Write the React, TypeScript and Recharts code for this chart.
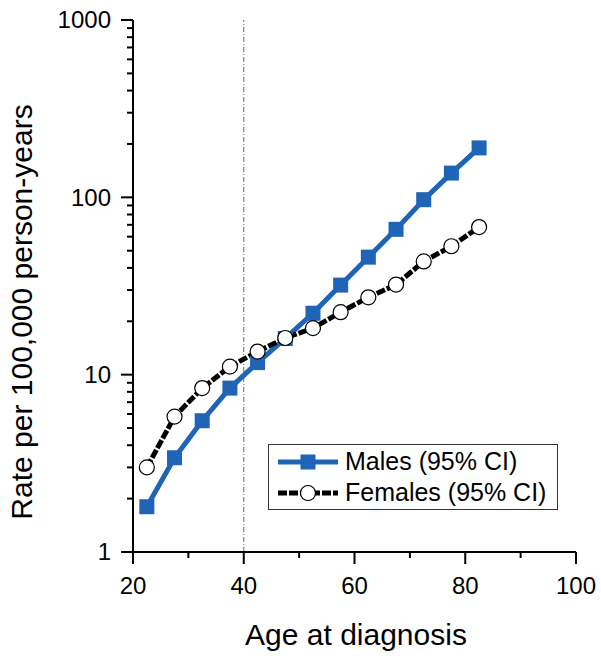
import { LineChart, Line, XAxis, YAxis, ReferenceLine } from "recharts";

const ages = [22.5, 27.5, 32.5, 37.5, 42.5, 47.5, 52.5, 57.5, 62.5, 67.5, 72.5, 77.5, 82.5];
const males = [1.8, 3.4, 5.5, 8.4, 11.7, 16, 22.2, 32, 46, 66, 97, 137, 190];
const females = [3.0, 5.8, 8.4, 11.1, 13.5, 16.1, 18.3, 22.5, 27.3, 32.2, 43.5, 53, 68];

const xTicks = [20, 30, 40, 50, 60, 70, 80, 90, 100];
const xLabels = [20, 40, 60, 80, 100];
const yLabels = [1, 10, 100, 1000];
const yTicks = [
  1, 2, 3, 4, 5, 6, 7, 8, 9,
  10, 20, 30, 40, 50, 60, 70, 80, 90,
  100, 200, 300, 400, 500, 600, 700, 800, 900,
  1000,
];

const data = ages.map((a, i) => ({ age: a, males: males[i], females: females[i] }));

const FONT = '"Liberation Sans", Arial, sans-serif';
const BLUE = "#1f64b7";

function XTick({ x, y, payload }: any) {
  const major = xLabels.includes(payload.value);
  return (
    <g>
      <line x1={x} x2={x} y1={y} y2={y + (major ? 12 : 6)} stroke="#000" strokeWidth={2} />
      {major && (
        <text x={x} y={y + 42} textAnchor="middle" fontSize={24} fontFamily={FONT} fill="#000">
          {payload.value}
        </text>
      )}
    </g>
  );
}

function YTick({ x, y, payload }: any) {
  const major = yLabels.includes(payload.value);
  return (
    <g>
      <line x1={x - (major ? 12 : 6)} x2={x} y1={y} y2={y} stroke="#000" strokeWidth={2} />
      {major && (
        <text x={x - 22} y={y} dy="0.35em" textAnchor="end" fontSize={24} fontFamily={FONT} fill="#000">
          {payload.value}
        </text>
      )}
    </g>
  );
}

function XTitle() {
  return (
    <text x={356} y={645} textAnchor="middle" fontSize={30} fontFamily={FONT} fill="#000">
      Age at diagnosis
    </text>
  );
}

function YTitle() {
  return (
    <text
      x={32}
      y={312}
      textAnchor="middle"
      fontSize={30}
      fontFamily={FONT}
      fill="#000"
      transform="rotate(-90, 32, 312)"
    >
      Rate per 100,000 person-years
    </text>
  );
}

function Square({ cx, cy }: any) {
  return <rect x={cx - 7.5} y={cy - 7.5} width={15} height={15} fill={BLUE} />;
}

function Circle({ cx, cy }: any) {
  return <circle cx={cx} cy={cy} r={7.5} fill="#fff" stroke="#000" strokeWidth={1.2} />;
}

function LegendBox() {
  const row = (label: string, color: string, dash: string | undefined, marker: "sq" | "ci") => (
    <div style={{ display: "flex", alignItems: "center", height: 31 }}>
      <svg width={64} height={24} style={{ marginRight: 5 }}>
        <line x1={2} x2={62} y1={12} y2={12} stroke={color} strokeWidth={5} strokeDasharray={dash} />
        {marker === "sq" ? (
          <rect x={24.5} y={4.5} width={15} height={15} fill={BLUE} />
        ) : (
          <circle cx={32} cy={12} r={7.5} fill="#fff" stroke="#000" strokeWidth={1.2} />
        )}
      </svg>
      <span style={{ fontSize: 25, fontFamily: FONT, color: "#000", lineHeight: 1 }}>{label}</span>
    </div>
  );
  return (
    <div
      style={{
        position: "absolute",
        left: 268,
        top: 444,
        width: 281,
        height: 63,
        border: "1px solid #333",
        background: "#fff",
        padding: "1px 0 0 7px",
      }}
    >
      {row("Males (95% CI)", BLUE, undefined, "sq")}
      {row("Females (95% CI)", "#000", "9 2", "ci")}
    </div>
  );
}

export default function App() {
  return (
    <div style={{ position: "absolute", left: 0, top: 0, width: 601, height: 656, background: "#fff" }}>
      <LineChart width={601} height={656} data={data} margin={{ top: 20, right: 25, left: 0, bottom: 0 }}>
        <XAxis
          dataKey="age"
          type="number"
          domain={[20, 100]}
          ticks={xTicks}
          interval={0}
          height={104}
          tickLine={false}
          tickSize={0}
          tickMargin={0}
          tick={<XTick />}
          axisLine={{ stroke: "#000", strokeWidth: 2 }}
          label={<XTitle />}
        />
        <YAxis
          scale="log"
          domain={[1, 1000]}
          allowDataOverflow
          ticks={yTicks}
          interval={0}
          width={133}
          tickLine={false}
          tickSize={0}
          tickMargin={0}
          tick={<YTick />}
          axisLine={{ stroke: "#000", strokeWidth: 2 }}
          label={<YTitle />}
        />
        <ReferenceLine x={40} stroke="#666" strokeWidth={1} strokeDasharray="5 2 1 2" />
        <Line
          dataKey="males"
          stroke={BLUE}
          strokeWidth={5}
          dot={<Square />}
          activeDot={false}
          isAnimationActive={false}
        />
        <Line
          dataKey="females"
          stroke="#000"
          strokeWidth={5}
          strokeDasharray="9 2"
          dot={<Circle />}
          activeDot={false}
          isAnimationActive={false}
        />
      </LineChart>
      <LegendBox />
    </div>
  );
}
